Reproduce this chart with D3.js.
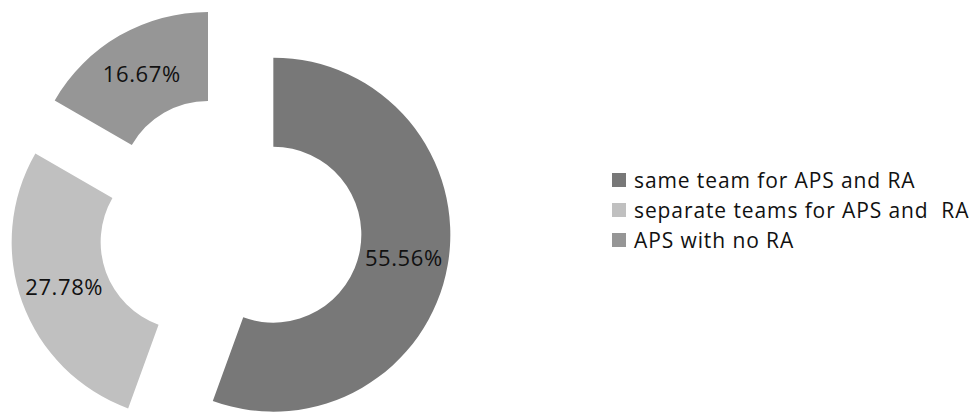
<!DOCTYPE html>
<html>
<head>
<meta charset="utf-8">
<script src="https://cdn.jsdelivr.net/npm/d3@7"></script>
<style>
  html, body { margin: 0; padding: 0; background: #fff; }
  svg { display: block; }
  text { font-family: "Open Sans", Lato, sans-serif; }
</style>
</head>
<body>
<svg id="chart" width="975" height="412"></svg>
<script>
// Share of organisations by how APS and RA are staffed (percent)
const categories = ["same team for APS and RA", "separate teams for APS and  RA", "APS with no RA"];
const values = [55.56, 27.78, 16.67];
const colors = ["#787878", "#c0c0c0", "#969696"];

const width = 975, height = 412;
const svg = d3.select("#chart");

const cx = 230, cy = 227;          // pie centre
const outerR = 177, innerR = 88;   // ring radii
const explode = 44;                // distance each slice is pulled out

const pie = d3.pie().sort(null).value(d => d.value);
const arc = d3.arc().innerRadius(innerR).outerRadius(outerR);

const data = categories.map((c, i) => ({ name: c, value: values[i], color: colors[i] }));
const arcs = pie(data);

const g = svg.append("g").attr("transform", `translate(${cx},${cy})`);

const slice = g.selectAll("g.slice")
  .data(arcs)
  .join("g")
  .attr("class", "slice")
  .attr("transform", d => {
    const a = (d.startAngle + d.endAngle) / 2;
    return `translate(${explode * Math.sin(a)},${-explode * Math.cos(a)})`;
  });

slice.append("path")
  .attr("d", arc)
  .attr("fill", d => d.data.color);

slice.append("text")
  .attr("transform", d => `translate(${arc.centroid(d)})`)
  .attr("text-anchor", "middle")
  .attr("dy", "0.36em")
  .attr("font-size", 22)
  .attr("letter-spacing", 0.6)
  .attr("fill", "#111")
  .text(d => d.data.value.toFixed(2) + "%");

// Legend
const legend = svg.append("g").attr("transform", "translate(612,180)");
const item = legend.selectAll("g")
  .data(data)
  .join("g")
  .attr("transform", (d, i) => `translate(0,${i * 30})`);

item.append("rect")
  .attr("x", 0).attr("y", -7)
  .attr("width", 14).attr("height", 14)
  .attr("fill", d => d.color);

item.append("text")
  .attr("x", 22)
  .attr("dy", "0.36em")
  .attr("font-size", 21)
  .attr("letter-spacing", 0.9)
  .attr("fill", "#111")
  .style("white-space", "pre")
  .text(d => d.name);
</script>
</body>
</html>
